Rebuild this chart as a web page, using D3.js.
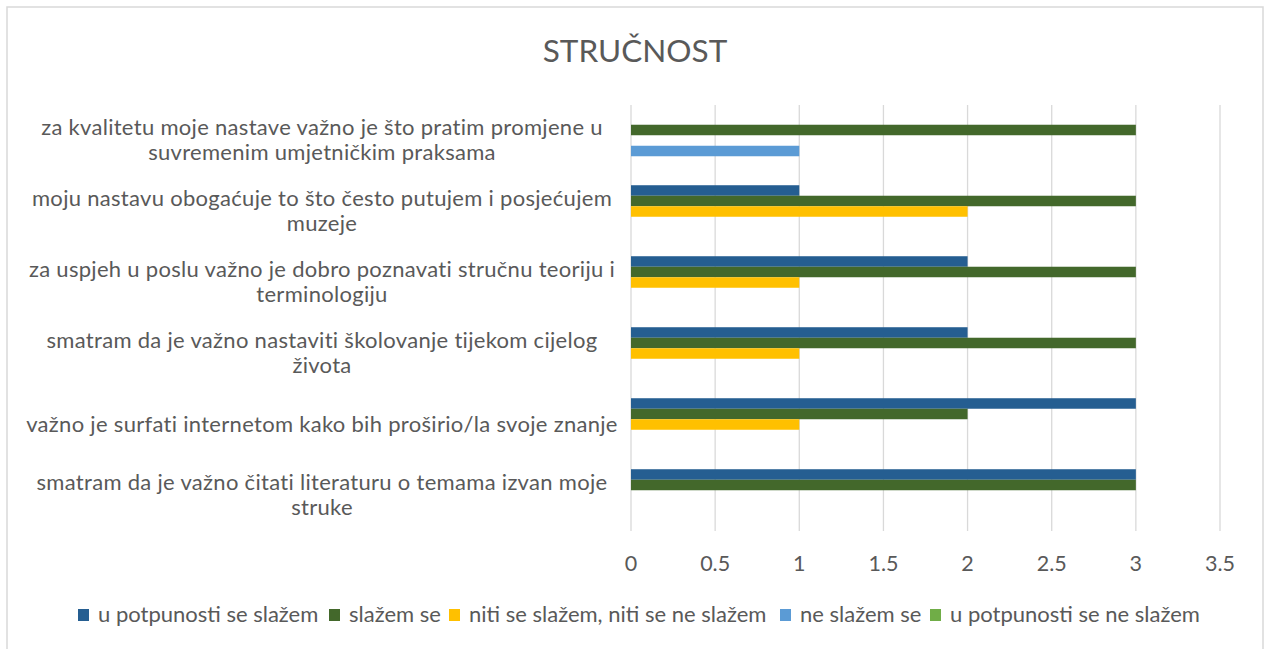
<!DOCTYPE html>
<html>
<head>
<meta charset="utf-8">
<script src="https://cdn.jsdelivr.net/npm/d3@7"></script>
<style>
  body { margin: 0; background: #fff; }
  text { font-family: Lato, "Open Sans", sans-serif; fill: #595959; }
</style>
</head>
<body>
<div id="chart"></div>
<script>
// categories, top to bottom as drawn (lines split as in the picture)
const categories = [
  ['za kvalitetu moje nastave važno je što pratim promjene u', 'suvremenim umjetničkim praksama'],
  ['moju nastavu obogaćuje to što često putujem i posjećujem', 'muzeje'],
  ['za uspjeh u poslu važno je dobro poznavati stručnu teoriju i', 'terminologiju'],
  ['smatram da je važno nastaviti školovanje tijekom cijelog', 'života'],
  ['važno je surfati internetom kako bih proširio/la svoje znanje'],
  ['smatram da je važno čitati literaturu o temama izvan moje', 'struke']
];
const seriesNames = ['u potpunosti se slažem', 'slažem se', 'niti se slažem, niti se ne slažem', 'ne slažem se', 'u potpunosti se ne slažem'];
const seriesColors = ['#255E91', '#43682B', '#FFC000', '#5B9BD5', '#70AD47'];
// values per series, same order as categories
const potpuno = [0, 1, 2, 2, 3, 3];
const slazem = [3, 3, 3, 3, 2, 3];
const niti = [0, 2, 1, 1, 1, 0];
const neSlazem = [1, 0, 0, 0, 0, 0];
const potpunoNe = [0, 0, 0, 0, 0, 0];
const xTicks = [0, 0.5, 1, 1.5, 2, 2.5, 3, 3.5];

const seriesValues = [potpuno, slazem, niti, neSlazem, potpunoNe];

const width = 1265, height = 649;
const margin = {top: 105, right: 45, bottom: 118, left: 631};

const svg = d3.select('#chart').append('svg')
  .attr('width', width)
  .attr('height', height);

// outer border
svg.append('rect')
  .attr('x', 7).attr('y', 7)
  .attr('width', 1256).attr('height', 660)
  .attr('fill', 'none')
  .attr('stroke', '#d9d9d9')
  .attr('stroke-width', 1.5);

// title
svg.append('text')
  .attr('x', 635).attr('y', 62)
  .attr('text-anchor', 'middle')
  .style('font-size', '31.5px')
  .text('STRUČNOST');

const x = d3.scaleLinear()
  .domain([0, 3.5])
  .range([margin.left, width - margin.right]);

const y = d3.scaleBand()
  .domain(d3.range(categories.length))
  .range([margin.top, height - margin.bottom])
  .paddingInner(0.26)
  .paddingOuter(0.13);

const ySub = d3.scaleBand()
  .domain(d3.range(seriesNames.length))
  .range([0, y.bandwidth()]);

// gridlines
svg.append('g')
  .selectAll('line')
  .data(xTicks)
  .enter()
  .append('line')
  .attr('x1', d => x(d)).attr('x2', d => x(d))
  .attr('y1', margin.top).attr('y2', height - margin.bottom)
  .attr('stroke', '#d9d9d9')
  .attr('stroke-width', 1.3);

// tick labels
svg.append('g')
  .selectAll('text')
  .data(xTicks)
  .enter()
  .append('text')
  .attr('x', d => x(d))
  .attr('y', 571)
  .attr('text-anchor', 'middle')
  .style('font-size', '21.5px')
  .text(d => d);

// bars
const rows = [];
categories.forEach((c, i) => {
  seriesValues.forEach((vals, s) => rows.push({cat: i, s: s, value: vals[i]}));
});

svg.append('g')
  .selectAll('rect')
  .data(rows.filter(d => d.value > 0))
  .enter()
  .append('rect')
  .attr('x', x(0))
  .attr('y', d => y(d.cat) + ySub(d.s))
  .attr('width', d => x(d.value) - x(0))
  .attr('height', ySub.bandwidth())
  .attr('fill', d => seriesColors[d.s]);

// category labels, centred and wrapped
const lineH = 25;
svg.append('g')
  .selectAll('text')
  .data(categories)
  .enter()
  .append('text')
  .attr('text-anchor', 'middle')
  .style('font-size', '22px')
  .style('letter-spacing', '0.3px')
  .each(function(lines, i) {
    const cy = y(i) + y.bandwidth() / 2;
    const top = cy - (lines.length - 1) * lineH / 2 + 7;
    d3.select(this).selectAll('tspan')
      .data(lines)
      .enter()
      .append('tspan')
      .attr('x', 322)
      .attr('y', (d, k) => top + k * lineH)
      .text(d => d);
  });

// legend
const legendX = [78, 329, 449, 780, 930];
const legend = svg.append('g')
  .selectAll('g')
  .data(seriesNames)
  .enter()
  .append('g')
  .attr('transform', (d, i) => `translate(${legendX[i]}, 609)`);

legend.append('rect')
  .attr('width', 11).attr('height', 12)
  .attr('fill', (d, i) => seriesColors[i]);

legend.append('text')
  .attr('x', 20).attr('y', 13)
  .style('font-size', '22px')
  .text(d => d);
</script>
</body>
</html>
